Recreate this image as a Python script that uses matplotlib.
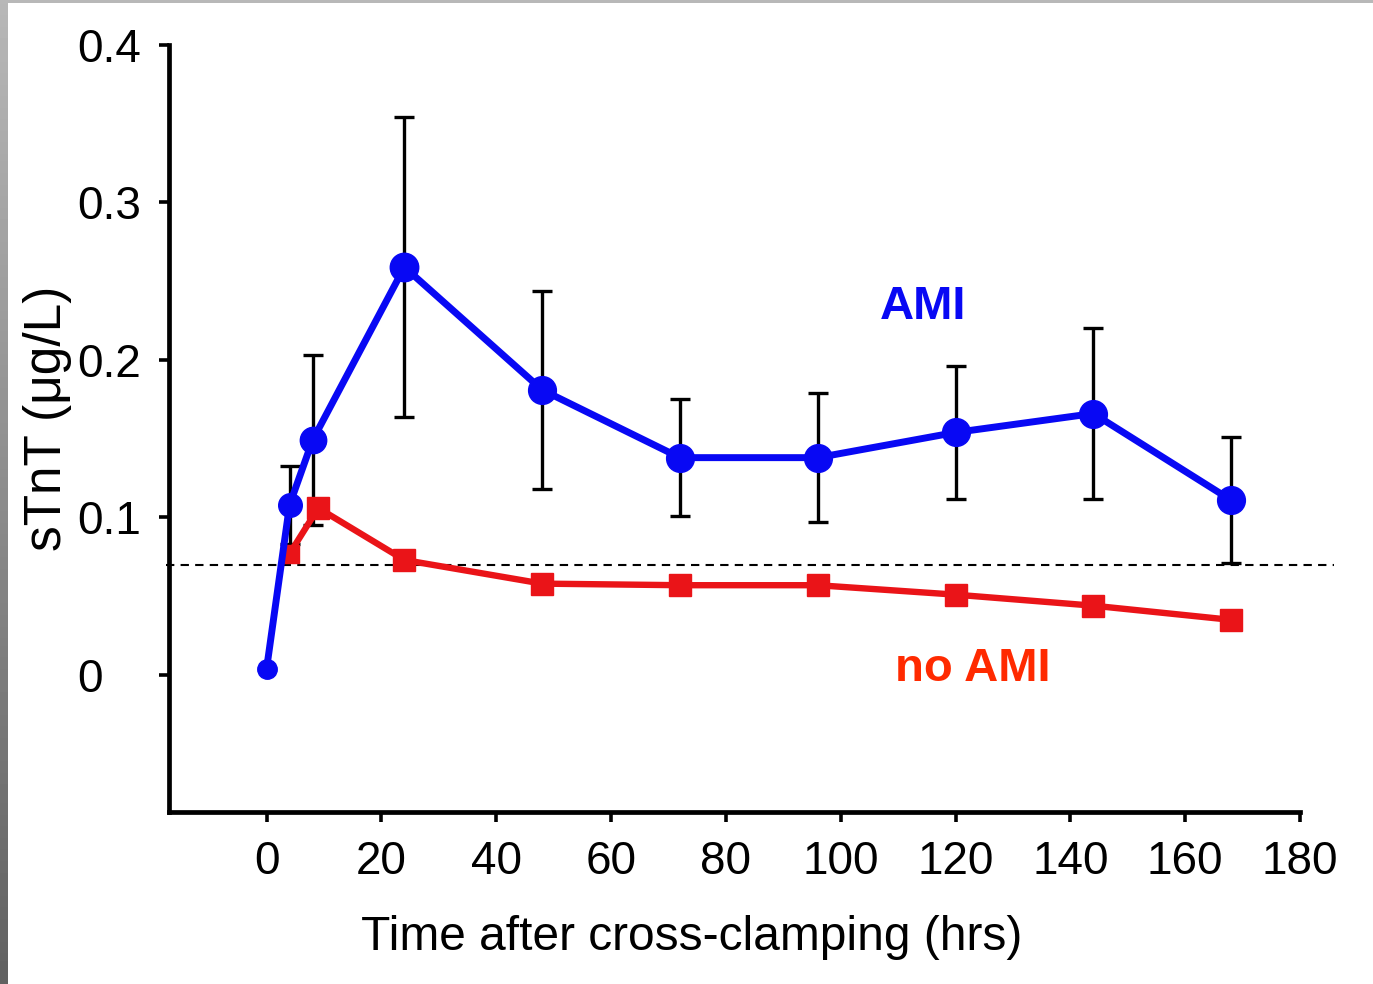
import matplotlib
matplotlib.use("Agg")
import matplotlib.pyplot as plt
import numpy as np

plt.rcParams['font.family'] = ['Liberation Sans', 'DejaVu Sans']

# Data
ami_hours = [0, 4, 8, 24, 48, 72, 96, 120, 144, 168]
ami_values = [0.004, 0.108, 0.149, 0.259, 0.181, 0.138, 0.138, 0.154, 0.166, 0.111]
ami_err = [None, 0.025, 0.054, 0.095, 0.063, 0.037, 0.041, 0.042, 0.054, 0.040]

noami_hours = [4, 9, 24, 48, 72, 96, 120, 144, 168]
noami_values = [0.077, 0.106, 0.073, 0.058, 0.057, 0.057, 0.051, 0.044, 0.035]

cutoff = 0.07
x_ticks = [0, 20, 40, 60, 80, 100, 120, 140, 160, 180]
y_ticks = [0, 0.1, 0.2, 0.3, 0.4]
y_ticklabels = ['0', '0.1', '0.2', '0.3', '0.4']

W, H = 1373, 984
fig = plt.figure(figsize=(W / 100, H / 100), dpi=100)
fig.patch.set_facecolor('white')

# frame decoration: grey gradient left strip and top strip
lax = fig.add_axes([0, 0, 8 / W, 1])
grad = np.linspace(0.38, 0.72, 256).reshape(-1, 1)
lax.imshow(grad, aspect='auto', cmap='gray', vmin=0, vmax=1, origin='lower',
           extent=[0, 1, 0, 1])
lax.axis('off')
tax = fig.add_axes([0, 1 - 3 / H, 1, 3 / H])
tax.set_facecolor('#b8b8b8')
tax.set_xticks([]); tax.set_yticks([])
for s in tax.spines.values():
    s.set_visible(False)

ax = fig.add_axes([169 / W, 1 - 812 / H, (1300 - 169) / W, (812 - 45) / H])
ax.set_xlim(-17, 180)
ax.set_ylim(-0.087, 0.4)

blue = '#0808f4'
red = '#ea1418'

# cutoff dashed line (extends beyond axes)
ax.plot([-17.5, 186], [cutoff, cutoff], ls=(0, (4, 3)), color='black', lw=1.5,
        clip_on=False, zorder=1)

# AMI error bars
ex = [h for h, e in zip(ami_hours, ami_err) if e is not None]
ey = [v for v, e in zip(ami_values, ami_err) if e is not None]
ee = [e for e in ami_err if e is not None]
ax.errorbar(ex, ey, yerr=ee, fmt='none', ecolor='black', elinewidth=2.4,
            capsize=7, capthick=2.4, zorder=2)

# no AMI series
ax.plot(noami_hours, noami_values, color=red, lw=4.6, zorder=3)
sizes_r = [13] + [16.5] * (len(noami_hours) - 1)
for h, v, s in zip(noami_hours, noami_values, sizes_r):
    ax.plot([h], [v], marker='s', ms=s, color=red, mec=red, zorder=3)

# AMI series
ax.plot(ami_hours, ami_values, color=blue, lw=5, zorder=4)
sizes_b = [14, 17, 19, 20.5, 20, 20, 20, 20, 20, 20]
for h, v, s in zip(ami_hours, ami_values, sizes_b):
    ax.plot([h], [v], marker='o', ms=s, color=blue, mec=blue, zorder=4)

ax.text(114.3, 0.2335, 'AMI', color=blue, fontsize=34, fontweight='bold',
        ha='center', va='center')
ax.text(123, 0.004, 'no AMI', color='#ff2a00', fontsize=34, fontweight='bold',
        ha='center', va='center')

# spines & ticks
for s in ['top', 'right']:
    ax.spines[s].set_visible(False)
for s in ['left', 'bottom']:
    ax.spines[s].set_linewidth(3.4)
ax.spines['left'].set_bounds(-0.087, 0.4)

ax.set_xticks(x_ticks)
ax.set_xticklabels([str(t) for t in x_ticks])
ax.set_yticks(y_ticks)
ax.set_yticklabels(y_ticklabels)
ax.tick_params(axis='x', direction='out', length=7, width=2.6, labelsize=33, pad=13)
ax.tick_params(axis='y', direction='out', length=7, width=2.6, labelsize=33, pad=59)
for lab in ax.get_yticklabels():
    lab.set_horizontalalignment('left')

fig.text(692 / W, 1 - 937 / H, 'Time after cross-clamping (hrs)', fontsize=34.5,
         ha='center', va='center')
fig.text(47 / W, 1 - 418 / H, 'sTnT (μg/L)', fontsize=37, rotation=90,
         ha='center', va='center')

fig.savefig('out.png', dpi=100, facecolor='white')
